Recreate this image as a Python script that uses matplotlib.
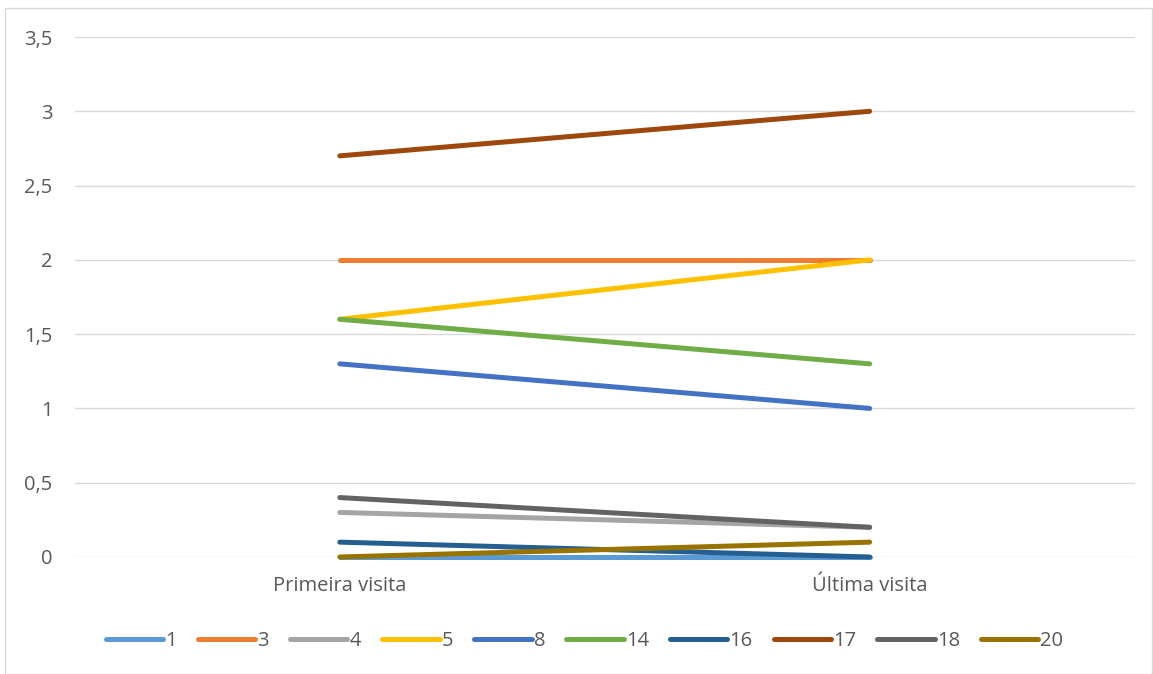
import matplotlib.pyplot as plt
from matplotlib.patches import Rectangle

categories = ["Primeira visita", "Última visita"]
series_names = ["1", "3", "4", "5", "8", "14", "16", "17", "18", "20"]
values = [
    [0.0, 0.0],
    [2.0, 2.0],
    [0.3, 0.2],
    [1.6, 2.0],
    [1.3, 1.0],
    [1.6, 1.3],
    [0.1, 0.0],
    [2.7, 3.0],
    [0.4, 0.2],
    [0.0, 0.1],
]
colors = ['#5B9BD5', '#ED7D31', '#A5A5A5', '#FFC000', '#4472C4',
          '#70AD47', '#255E91', '#9E480E', '#636363', '#997300']
yticks = [0, 0.5, 1, 1.5, 2, 2.5, 3, 3.5]

plt.rcParams['font.family'] = ['Open Sans', 'DejaVu Sans']

fig = plt.figure(figsize=(11.53, 6.74), dpi=100)
ax = fig.add_axes([0.065, 0.1736, 0.919, 0.7715])

x = [0, 1]
for name, vals, c in zip(series_names, values, colors):
    ax.plot(x, vals, color=c, lw=3.6, solid_capstyle='round', label=name, clip_on=False)

ax.set_xlim(-0.5, 1.5)
ax.set_ylim(0, 3.5)
ax.set_yticks(yticks)
ax.set_yticklabels([str(t).replace('.', ',') if t % 1 else str(int(t)) for t in yticks])
ax.set_xticks(x)
ax.set_xticklabels(categories)
ax.grid(axis='y', color='#D9D9D9', lw=1)
ax.set_axisbelow(True)
for s in ax.spines.values():
    s.set_visible(False)
ax.tick_params(length=0, labelcolor='#595959', labelsize=14.5)
ax.tick_params(axis='y', pad=16)
ax.tick_params(axis='x', pad=14)

leg = fig.legend(loc='center', bbox_to_anchor=(0.507, 0.049), ncol=10, frameon=False,
                 fontsize=14.5, handlelength=2.85, handletextpad=0.1, columnspacing=1.05)
for t in leg.get_texts():
    t.set_color('#595959')

fig.patches.append(Rectangle((0.004, 0.0), 0.995, 0.988, transform=fig.transFigure,
                             fill=False, edgecolor='#D9D9D9', lw=1))

fig.savefig('out.png', dpi=100)
